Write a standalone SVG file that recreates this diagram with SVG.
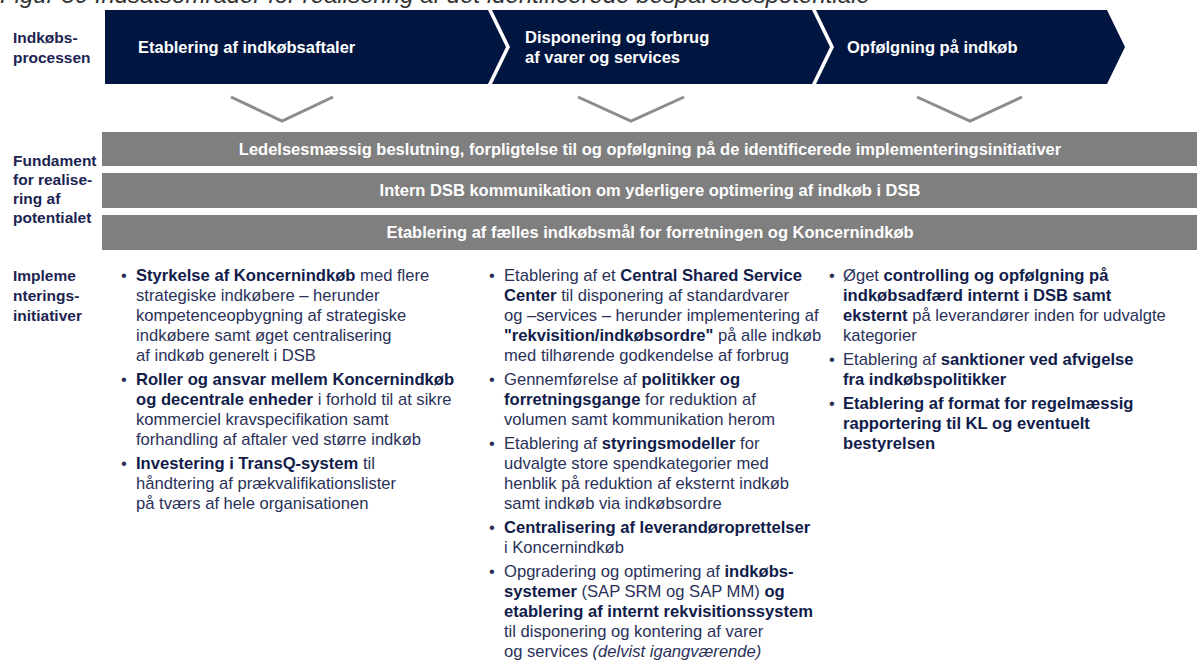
<svg xmlns="http://www.w3.org/2000/svg" width="1200" height="661" viewBox="0 0 1200 661">
<style>
text{font-family:"Liberation Sans",Arial,sans-serif}
.title{font-size:24px;font-style:italic;fill:#333}
.lbl{font-size:15.5px;font-weight:bold;fill:#1c2452}
.chev{fill:#001540}
.ct{font-size:16.5px;font-weight:bold;fill:#fff}
.bar{fill:#7f7f7f}
.bt{font-size:16.5px;font-weight:bold;fill:#fff;text-anchor:middle}
.v{fill:none;stroke:#8c8c8c;stroke-width:3}
.tx{font-size:16.6px;fill:#2a3158}
.b{font-weight:bold;fill:#111c4a}
.i{font-style:italic}
</style>
<text class="title" x="0" y="3">Figur 30 Indsatsområder for realisering af det identificerede besparelsespotentiale</text>

<g id="label-processen"><text class="lbl" x="13" y="43">Indkøbs-</text><text class="lbl" x="13" y="63">processen</text></g>
<g id="label-fundament"><text class="lbl" x="13" y="166">Fundament</text><text class="lbl" x="13" y="185">for realise-</text><text class="lbl" x="13" y="204">ring af</text><text class="lbl" x="13" y="223">potentialet</text></g>
<g id="label-initiativer"><text class="lbl" x="13" y="281">Impleme</text><text class="lbl" x="13" y="301">nterings-</text><text class="lbl" x="13" y="321">initiativer</text></g>

<g id="step1"><polygon class="chev" points="105,10 488,10 506,47 488,84 105,84"/><text class="ct" x="138" y="53">Etablering af indkøbsaftaler</text></g>
<g id="step2"><polygon class="chev" points="492,10 812,10 830,47 812,84 492,84 510,47"/><text class="ct" x="525" y="43">Disponering og forbrug</text><text class="ct" x="525" y="63">af varer og services</text></g>
<g id="step3"><polygon class="chev" points="816,10 1107,10 1125,47 1107,84 816,84 834,47"/><text class="ct" x="847" y="53">Opfølgning på indkøb</text></g>

<g id="connectors">
<polyline class="v" points="231,97 282,121 333,97"/>
<polyline class="v" points="578,97 631,121 684,97"/>
<polyline class="v" points="917,97 970,121 1022,97"/>
</g>

<g id="bar1"><rect class="bar" x="102" y="132" width="1095" height="34"/><text class="bt" x="650" y="155">Ledelsesmæssig beslutning, forpligtelse til og opfølgning på de identificerede implementeringsinitiativer</text></g>
<g id="bar2"><rect class="bar" x="102" y="173" width="1095" height="35"/><text class="bt" x="650" y="196">Intern DSB kommunikation om yderligere optimering af indkøb i DSB</text></g>
<g id="bar3"><rect class="bar" x="102" y="215" width="1095" height="35"/><text class="bt" x="650" y="238">Etablering af fælles indkøbsmål for forretningen og Koncernindkøb</text></g>

<g id="col1">
<text class="tx" x="121" y="281">•</text>
<text class="tx" x="136" y="281"><tspan class="b">Styrkelse af Koncernindkøb</tspan> med flere</text>
<text class="tx" x="136" y="301">strategiske indkøbere – herunder</text>
<text class="tx" x="136" y="321">kompetenceopbygning af strategiske</text>
<text class="tx" x="136" y="341">indkøbere samt øget centralisering</text>
<text class="tx" x="136" y="361">af indkøb generelt i DSB</text>
<text class="tx" x="121" y="385">•</text>
<text class="tx" x="136" y="385"><tspan class="b">Roller og ansvar mellem Koncernindkøb</tspan></text>
<text class="tx" x="136" y="405"><tspan class="b">og decentrale enheder</tspan> i forhold til at sikre</text>
<text class="tx" x="136" y="425">kommerciel kravspecifikation samt</text>
<text class="tx" x="136" y="445">forhandling af aftaler ved større indkøb</text>
<text class="tx" x="121" y="469">•</text>
<text class="tx" x="136" y="469"><tspan class="b">Investering i TransQ-system</tspan> til</text>
<text class="tx" x="136" y="489">håndtering af prækvalifikationslister</text>
<text class="tx" x="136" y="509">på tværs af hele organisationen</text>
</g>

<g id="col2">
<text class="tx" x="489" y="281">•</text>
<text class="tx" x="504" y="281">Etablering af et <tspan class="b">Central Shared Service</tspan></text>
<text class="tx" x="504" y="301"><tspan class="b">Center</tspan> til disponering af standardvarer</text>
<text class="tx" x="504" y="321">og –services – herunder implementering af</text>
<text class="tx" x="504" y="341"><tspan class="b">"rekvisition/indkøbsordre"</tspan> på alle indkøb</text>
<text class="tx" x="504" y="361">med tilhørende godkendelse af forbrug</text>
<text class="tx" x="489" y="385">•</text>
<text class="tx" x="504" y="385">Gennemførelse af <tspan class="b">politikker og</tspan></text>
<text class="tx" x="504" y="405"><tspan class="b">forretningsgange</tspan> for reduktion af</text>
<text class="tx" x="504" y="425">volumen samt kommunikation herom</text>
<text class="tx" x="489" y="449">•</text>
<text class="tx" x="504" y="449">Etablering af <tspan class="b">styringsmodeller</tspan> for</text>
<text class="tx" x="504" y="469">udvalgte store spendkategorier med</text>
<text class="tx" x="504" y="489">henblik på reduktion af eksternt indkøb</text>
<text class="tx" x="504" y="509">samt indkøb via indkøbsordre</text>
<text class="tx" x="489" y="533">•</text>
<text class="tx" x="504" y="533"><tspan class="b">Centralisering af leverandøroprettelser</tspan></text>
<text class="tx" x="504" y="553">i Koncernindkøb</text>
<text class="tx" x="489" y="577">•</text>
<text class="tx" x="504" y="577">Opgradering og optimering af <tspan class="b">indkøbs-</tspan></text>
<text class="tx" x="504" y="597"><tspan class="b">systemer</tspan> (SAP SRM og SAP MM) <tspan class="b">og</tspan></text>
<text class="tx" x="504" y="617"><tspan class="b">etablering af internt rekvisitionssystem</tspan></text>
<text class="tx" x="504" y="637">til disponering og kontering af varer</text>
<text class="tx" x="504" y="657">og services <tspan class="i">(delvist igangværende)</tspan></text>
</g>

<g id="col3">
<text class="tx" x="829" y="281">•</text>
<text class="tx" x="843" y="281">Øget <tspan class="b">controlling og opfølgning på</tspan></text>
<text class="tx" x="843" y="301"><tspan class="b">indkøbsadfærd internt i DSB samt</tspan></text>
<text class="tx" x="843" y="321"><tspan class="b">eksternt</tspan> på leverandører inden for udvalgte</text>
<text class="tx" x="843" y="341">kategorier</text>
<text class="tx" x="829" y="365">•</text>
<text class="tx" x="843" y="365">Etablering af <tspan class="b">sanktioner ved afvigelse</tspan></text>
<text class="tx" x="843" y="385"><tspan class="b">fra indkøbspolitikker</tspan></text>
<text class="tx" x="829" y="409">•</text>
<text class="tx" x="843" y="409"><tspan class="b">Etablering af format for regelmæssig</tspan></text>
<text class="tx" x="843" y="429"><tspan class="b">rapportering til KL og eventuelt</tspan></text>
<text class="tx" x="843" y="449"><tspan class="b">bestyrelsen</tspan></text>
</g>
</svg>
